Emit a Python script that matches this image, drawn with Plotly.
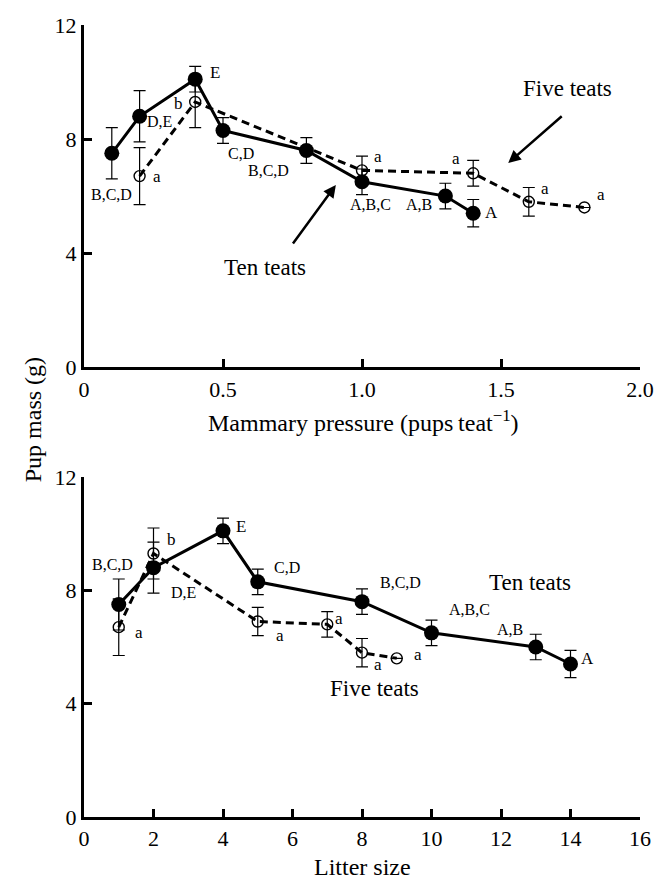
import plotly.graph_objects as go

# ---------------- data ----------------
# Panel A: mammary pressure (pups per teat)
ten_press = [0.1, 0.2, 0.4, 0.5, 0.8, 1.0, 1.3, 1.4]
five_press = [0.2, 0.4, 1.0, 1.4, 1.6, 1.8]
# Panel B: litter size
ten_litter = [1, 2, 4, 5, 8, 10, 13, 14]
five_litter = [1, 2, 5, 7, 8, 9]
# Pup mass (g) and error
ten_mass = [7.5, 8.8, 10.1, 8.3, 7.6, 6.5, 6.0, 5.4]
ten_err = [0.9, 0.9, 0.45, 0.45, 0.45, 0.45, 0.45, 0.48]
five_mass = [6.7, 9.3, 6.9, 6.8, 5.8, 5.6]
five_err = [1.0, 0.9, 0.5, 0.45, 0.5, 0.0]

xticksA = [0, 0.5, 1.0, 1.5, 2.0]
xtickA_text = ["0", "0.5", "1.0", "1.5", "2.0"]
xticksB = [0, 2, 4, 6, 8, 10, 12, 14, 16]
yticks = [0, 4, 8, 12]

FONT = "Liberation Serif"

fig = go.Figure()


def add_series(x, y, err, xa, ya, filled):
    if filled:
        marker = dict(symbol="circle", size=15, color="black")
        line = dict(color="black", width=3)
    else:
        marker = dict(symbol="circle-open", size=11, color="black",
                      line=dict(width=1.4, color="black"))
        line = dict(color="black", width=3, dash="8px,5px")
    fig.add_trace(go.Scatter(
        x=x, y=y, mode="lines+markers", xaxis=xa, yaxis=ya,
        line=line, marker=marker, cliponaxis=False,
        error_y=dict(type="data", array=err, visible=True,
                     color="black", thickness=1.2, width=6),
        showlegend=False, hoverinfo="skip"))


# Panel A
add_series(five_press, five_mass, five_err, "x", "y", False)
add_series(ten_press, ten_mass, ten_err, "x", "y", True)
# Panel B
add_series(five_litter, five_mass, five_err, "x2", "y2", False)
add_series(ten_litter, ten_mass, ten_err, "x2", "y2", True)

axis_common = dict(
    showline=True, linecolor="black", linewidth=3,
    ticks="inside", ticklen=8, tickwidth=2.5, tickcolor="black",
    showgrid=False, zeroline=False,
    tickfont=dict(family=FONT, size=22, color="black"),
    mirror=False, fixedrange=True,
)

fig.update_layout(
    width=666, height=879,
    margin=dict(l=84, r=17, t=25, b=62),
    paper_bgcolor="white", plot_bgcolor="white",
    font=dict(family=FONT, color="black"),
    xaxis=dict(axis_common, domain=[0, 1], range=[0, 2.0],
               tickvals=xticksA, ticktext=xtickA_text, anchor="y"),
    yaxis=dict(axis_common, domain=[0.568, 1.0], range=[0, 12],
               tickvals=yticks, anchor="x"),
    xaxis2=dict(axis_common, domain=[0, 1], range=[0, 16],
                tickvals=xticksB, anchor="y2"),
    yaxis2=dict(axis_common, domain=[0, 0.4293], range=[0, 12],
                tickvals=yticks, anchor="x2"),
)

ann = []


def txt(x, y, s, size=16, xref="x", yref="y", yanchor="middle"):
    ann.append(dict(x=x, y=y, text=s, xref=xref, yref=yref, showarrow=False,
                    yanchor=yanchor,
                    font=dict(family=FONT, size=size, color="black")))


# Panel A labels
txt(0.117, 12.25, "A", 21)
txt(0.47, 10.32, "E", 17)
txt(0.34, 9.26, "b", 17)
txt(0.27, 8.6, "D,E", 16)
txt(0.262, 6.67, "a", 17)
txt(0.099, 6.04, "B,C,D", 16)
txt(0.563, 7.51, "C,D", 16)
txt(0.665, 6.91, "B,C,D", 16)
txt(1.058, 7.4, "a", 17)
txt(1.338, 7.33, "a", 17)
txt(1.03, 5.72, "A,B,C", 16)
txt(1.204, 5.72, "A,B", 16)
txt(1.465, 5.44, "A", 17)
txt(1.66, 6.25, "a", 17)
txt(1.858, 6.04, "a", 17)
txt(0.651, 3.51, "Ten teats", 23)
txt(1.738, 9.79, "Five teats", 23)
ann.append(dict(x=0.906, y=6.39, xref="x", yref="y", ax=-44, ay=60,
                showarrow=True, arrowhead=2, arrowsize=1, arrowwidth=2.5,
                arrowcolor="black", text=""))
ann.append(dict(x=1.526, y=7.16, xref="x", yref="y", ax=55, ay=-48,
                showarrow=True, arrowhead=2, arrowsize=1, arrowwidth=2.5,
                arrowcolor="black", text=""))

# Panel B labels
txt(0.74, 12.32, "B", 21, "x2", "y2")
txt(0.82, 8.9, "B,C,D", 16, "x2", "y2")
txt(2.52, 9.81, "b", 17, "x2", "y2")
txt(4.53, 10.27, "E", 17, "x2", "y2")
txt(5.84, 8.82, "C,D", 16, "x2", "y2")
txt(2.86, 7.94, "D,E", 16, "x2", "y2")
txt(1.59, 6.5, "a", 17, "x2", "y2")
txt(5.64, 6.42, "a", 17, "x2", "y2")
txt(7.34, 6.99, "a", 17, "x2", "y2")
txt(9.12, 8.26, "B,C,D", 16, "x2", "y2")
txt(11.08, 7.31, "A,B,C", 16, "x2", "y2")
txt(12.27, 6.6, "A,B", 16, "x2", "y2")
txt(14.5, 5.61, "A", 17, "x2", "y2")
txt(8.47, 5.37, "a", 17, "x2", "y2")
txt(9.6, 5.75, "a", 17, "x2", "y2")
txt(12.83, 8.29, "Ten teats", 23, "x2", "y2")
txt(8.36, 4.52, "Five teats", 23, "x2", "y2")

# Axis titles
txt(0.503, 0.5, "Mammary pressure (pups\u2009teat<sup>\u22121</sup>)", 24, "paper", "paper")
txt(0.5, -0.0442, "Litter size", 24, "paper", "paper", "top")
ann.append(dict(x=-0.1186, y=0.501, xref="paper", yref="paper", showarrow=False,
                text="Pup mass (g)", textangle=-90,
                font=dict(family=FONT, size=24, color="black")))

fig.update_layout(annotations=ann)
fig.write_html("out.html")
